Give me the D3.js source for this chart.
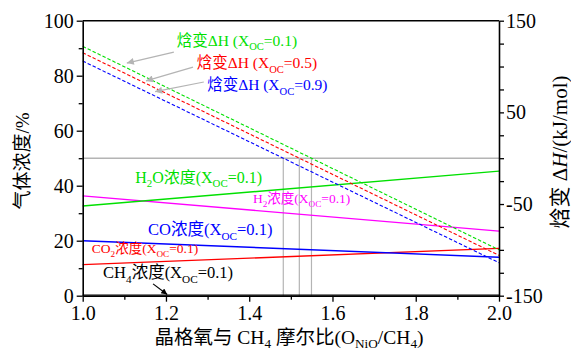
<!DOCTYPE html>
<html>
<head>
<meta charset="utf-8">
<script src="https://cdn.jsdelivr.net/npm/d3@7"></script>
<style>
  html, body { margin: 0; padding: 0; background: #fff; }
  svg { display: block; }
  text { font-family: "Liberation Serif", "Times New Roman", "Noto Sans CJK SC", serif; }
</style>
</head>
<body>
<svg id="chart" width="571" height="352"></svg>
<script>
// Molar ratio of lattice oxygen to CH4 (x axis)
const ratio = [1.0, 2.0];

// Gas concentrations (%) at X_OC = 0.1
const h2o = [32.6, 45.3];
const h2  = [36.3, 23.5];
const co  = [20.0, 14.0];
const co2 = [11.3, 17.2];
const ch4 = [0.2, 0.2];

// Reaction enthalpy ΔH (kJ/mol) at X_OC = 0.1, 0.5, 0.9
const dh01 = [122, -100];
const dh05 = [115, -106];
const dh09 = [106, -114];

// Axis ticks
const xMajor = [1.0, 1.2, 1.4, 1.6, 1.8, 2.0];
const xMinor = [1.1, 1.3, 1.5, 1.7, 1.9];
const yMajor = [0, 20, 40, 60, 80, 100];
const yMinor = [10, 30, 50, 70, 90];
const rMajor = [150, 50, -50, -150];
const rMinor = [125, 100, 75, 25, 0, -25, -75, -100, -125];

const GREEN = "#00e000", RED = "#ff0000", BLUE = "#0000ff", MAGENTA = "#ff00ff", GREY = "#b4b4b4";
const FONT = "'Liberation Serif', 'Times New Roman', 'Noto Sans CJK SC', serif";

const svg = d3.select("#chart");
const x = d3.scaleLinear([1, 2], [82.7, 499]);
const yL = d3.scaleLinear([0, 100], [295.7, 20.7]);
const yR = d3.scaleLinear([-150, 150], [295.7, 20.7]);

const zip = (xs, ys) => xs.map((v, i) => [v, ys[i]]);
const lineL = d3.line().x(d => x(d[0])).y(d => yL(d[1]));
const lineR = d3.line().x(d => x(d[0])).y(d => yR(d[1]));

// Reference line at ΔH = 0 (50 %)
svg.append("line")
  .attr("x1", x(1)).attr("x2", x(2))
  .attr("y1", yR(0)).attr("y2", yR(0))
  .attr("stroke", GREY).attr("stroke-width", 1.4);

// Vertical guides where each ΔH curve crosses zero
function zeroCross(ys) {
  for (let i = 0; i < ys.length - 1; i++) {
    if ((ys[i] >= 0) !== (ys[i + 1] >= 0)) {
      const t = ys[i] / (ys[i] - ys[i + 1]);
      return ratio[i] + t * (ratio[i + 1] - ratio[i]);
    }
  }
  return null;
}
[dh01, dh05, dh09].forEach(ys => {
  const xc = zeroCross(ys);
  svg.append("line")
    .attr("x1", x(xc)).attr("x2", x(xc))
    .attr("y1", yR(0)).attr("y2", yL(0) + 1)
    .attr("stroke", GREY).attr("stroke-width", 1.2);
});

// Concentration curves
const concSeries = [
  { v: ch4, c: "#000000" },
  { v: co2, c: RED },
  { v: co,  c: BLUE },
  { v: h2,  c: MAGENTA },
  { v: h2o, c: GREEN }
];
concSeries.forEach(s => {
  svg.append("path").attr("d", lineL(zip(ratio, s.v)))
    .attr("fill", "none").attr("stroke", s.c).attr("stroke-width", 1.4);
});

// Enthalpy curves (dashed)
[{ v: dh01, c: GREEN }, { v: dh05, c: RED }, { v: dh09, c: BLUE }].forEach(s => {
  svg.append("path").attr("d", lineR(zip(ratio, s.v)))
    .attr("fill", "none").attr("stroke", s.c).attr("stroke-width", 1.1)
    .attr("stroke-dasharray", "3.5,2");
});

// Axes
const axisStyle = g => {
  g.attr("font-family", null);
  g.selectAll("path.domain").attr("stroke", "#000").attr("stroke-width", 1.6);
  g.selectAll(".tick line").attr("stroke", "#000").attr("stroke-width", 1.3);
  g.selectAll(".tick text").attr("fill", "#000")
    .style("font-family", FONT).style("font-size", "20px");
};

svg.append("g").attr("transform", `translate(0,${yL(0)})`)
  .call(d3.axisBottom(x).tickValues(xMajor).tickFormat(d3.format(".1f")).tickSize(6).tickSizeOuter(0).tickPadding(4))
  .call(axisStyle);
svg.append("g").attr("transform", `translate(0,${yL(0)})`)
  .call(d3.axisBottom(x).tickValues(xMinor).tickFormat("").tickSize(4).tickSizeOuter(0))
  .call(g => g.select(".domain").remove()).call(axisStyle);

svg.append("g").attr("transform", `translate(${x(1)},0)`)
  .call(d3.axisLeft(yL).tickValues(yMajor).tickSize(6).tickSizeOuter(0).tickPadding(3))
  .call(axisStyle);
svg.append("g").attr("transform", `translate(${x(1)},0)`)
  .call(d3.axisLeft(yL).tickValues(yMinor).tickFormat("").tickSize(4).tickSizeOuter(0))
  .call(g => g.select(".domain").remove()).call(axisStyle);

svg.append("g").attr("transform", `translate(${x(2)},0)`)
  .call(d3.axisRight(yR).tickValues(rMajor).tickFormat(d => d < 0 ? "-" + Math.abs(d) : d).tickSize(5).tickSizeOuter(0).tickPadding(2))
  .call(axisStyle);
svg.append("g").attr("transform", `translate(${x(2)},0)`)
  .call(d3.axisRight(yR).tickValues(rMinor).tickFormat("").tickSize(5).tickSizeOuter(0))
  .call(g => g.select(".domain").remove()).call(axisStyle);

// Top frame
svg.append("line").attr("x1", x(1)).attr("x2", x(2))
  .attr("y1", yL(100)).attr("y2", yL(100))
  .attr("stroke", "#000").attr("stroke-width", 1.6);

// Text with subscripts: parts are [text, isSub]
function richText(g, parts, size, color, shift = 0.3) {
  const t = g.append("text").style("font-size", size + "px").style("font-family", FONT).attr("fill", color);
  let sub = false;
  parts.forEach(([s, isSub]) => {
    const ts = t.append("tspan").text(s);
    if (isSub) ts.style("font-size", (size * 0.68) + "px");
    if (isSub && !sub) ts.attr("dy", size * shift);
    else if (!isSub && sub) ts.attr("dy", -size * shift);
    sub = isSub;
  });
  return t;
}

// Curve labels, anchored in data units (ratio, %)
const labels = [
  { at: [1.226, 90.9], size: 15.5, c: GREEN,   parts: [["焓变ΔH (X"], ["OC", true], ["=0.1)"]] },
  { at: [1.274, 82.8], size: 15.5, c: RED,     parts: [["焓变ΔH (X"], ["OC", true], ["=0.5)"]] },
  { at: [1.299, 74.8], size: 15.5, c: BLUE,    parts: [["焓变ΔH (X"], ["OC", true], ["=0.9)"]] },
  { at: [1.126, 41.1], size: 16,   c: GREEN,   parts: [["H"], ["2", true], ["O浓度(X"], ["OC", true], ["=0.1)"]] },
  { at: [1.409, 33.7], size: 13.5, c: MAGENTA, parts: [["H"], ["2", true], ["浓度(X"], ["OC", true], ["=0.1)"]] },
  { at: [1.157, 22.1], size: 16.5, c: BLUE,    parts: [["CO浓度(X"], ["OC", true], ["=0.1)"]] },
  { at: [1.022, 15.5], size: 13.5, c: RED,     parts: [["CO"], ["2", true], ["浓度(X"], ["OC", true], ["=0.1)"]] },
  { at: [1.049, 6.4],  size: 16.5, c: "#000",  parts: [["CH"], ["4", true], ["浓度(X"], ["OC", true], ["=0.1)"]] }
];
labels.forEach(l => {
  richText(svg, l.parts.map(p => [p[0], !!p[1]]), l.size, l.c)
    .attr("x", x(l.at[0])).attr("y", yL(l.at[1]));
});

// Arrow markers
const defs = svg.append("defs");
function marker(id, color, w, h) {
  defs.append("marker").attr("id", id)
    .attr("viewBox", "0 0 10 10").attr("refX", 10).attr("refY", 5)
    .attr("markerWidth", w).attr("markerHeight", h)
    .attr("markerUnits", "userSpaceOnUse").attr("orient", "auto")
    .append("path").attr("d", "M0,0 L10,5 L0,10 Z").attr("fill", color);
}
marker("arrGrey", GREY, 11, 7);
marker("arrBlack", "#000", 9, 6);

// Leader arrows from the labels to their curves (ratio, %)
const arrows = [
  { from: [1.219, 88.6], to: [1.106, 84.6], c: GREY, m: "arrGrey" },
  { from: [1.265, 83.1], to: [1.152, 78.1], c: GREY, m: "arrGrey" },
  { from: [1.291, 77.7], to: [1.174, 74.2], c: GREY, m: "arrGrey" },
  { from: [1.169, 4.3],  to: [1.203, 0.4],  c: "#000", m: "arrBlack" }
];
arrows.forEach(a => {
  svg.append("line")
    .attr("x1", x(a.from[0])).attr("y1", yL(a.from[1]))
    .attr("x2", x(a.to[0])).attr("y2", yL(a.to[1]))
    .attr("stroke", a.c).attr("stroke-width", 1.2)
    .attr("marker-end", `url(#${a.m})`);
});

// Axis titles
richText(svg, [["晶格氧与 CH"], ["4", true], [" 摩尔比(O"], ["NiO", true], ["/CH"], ["4", true], [")"]], 19.5, "#000", 0.2)
  .attr("x", 289).attr("y", 344).attr("text-anchor", "middle");

svg.append("text").style("font-size", "19px").style("font-family", FONT).attr("fill", "#000")
  .attr("text-anchor", "middle")
  .attr("transform", "translate(29,161) rotate(-90)")
  .text("气体浓度/%");

const rt = svg.append("text").style("font-size", "21px").style("font-family", FONT).attr("fill", "#000")
  .attr("text-anchor", "middle")
  .attr("transform", "translate(567,152) rotate(-90)");
rt.append("tspan").text("焓变 Δ");
rt.append("tspan").attr("font-style", "italic").text("H");
rt.append("tspan").text("/(kJ/mol)");
</script>
</body>
</html>
